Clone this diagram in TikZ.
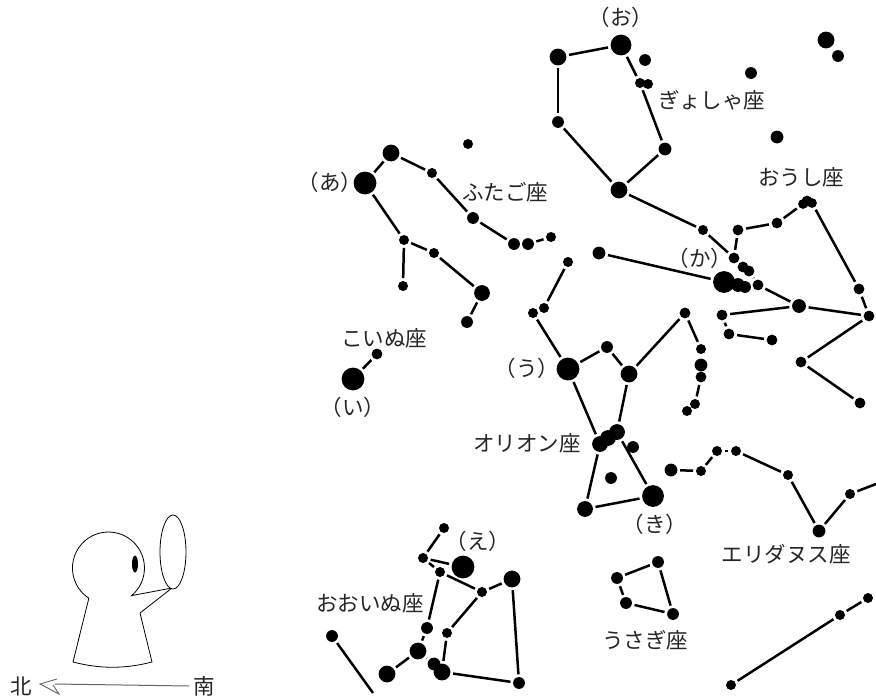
\documentclass[tikz,border=0pt]{standalone}
\usepackage{fontspec}
\newfontfamily\jp{Noto Sans CJK JP}
\begin{document}
\begin{tikzpicture}[x=1pt,y=-1pt,
  link/.style={line width=2.5pt, shorten <=2.6pt, shorten >=2.6pt},
  lbl/.style={font=\jp\fontsize{21.5}{21.5}\selectfont, text=black!85, inner sep=0pt},
  figline/.style={line width=0.8pt, fill=white},
]
% star: name, x, y, radius
\newcommand\st[4]{\node[circle,fill=black,inner sep=0pt,minimum size=(#4+0.4)*2pt] (#1) at (#2,#3) {};}

\fill[white] (0,0) rectangle (876,699);
\useasboundingbox (0,0) rectangle (876,699);

% ---- Auriga
\st{cap}{621}{45}{10}
\st{au1}{645}{60}{5.5}
\st{au2}{640}{83}{4.6}
\st{au2b}{648}{84}{4.6}
\st{au3}{558}{57}{8}
\st{au4}{558}{122}{5.5}
\st{au5}{665}{149}{6}
\st{au6}{619}{190}{8}
\st{iso1}{751}{73}{5.5}
\st{iso2}{777}{137}{6}
\st{iso3}{826}{40}{8}
\st{iso4}{838}{56}{5.5}

% ---- Taurus
\st{ald}{724}{282}{10.5}
\st{hy1}{738}{285}{6.5}
\st{hy2}{745}{287}{5.5}
\st{ta1}{703}{230}{4.6}
\st{ta2}{738}{230}{5}
\st{ta3}{734}{258}{5}
\st{ta4}{743}{267}{5}
\st{ta5}{749}{271}{5}
\st{ta6}{758}{285}{5}
\st{ta7}{777}{223}{5}
\st{elc}{807}{201}{5}
\st{elc2}{803}{204}{4.5}
\st{elc3}{812}{203}{4.5}
\st{ta8}{799}{306}{6.5}
\st{ta9}{869}{316}{5}
\st{ta10}{859}{289}{5}
\st{ta11}{801}{362}{5}
\st{ta12}{860}{403}{5}
\st{ta13}{722}{315}{5}
\st{ta14}{729}{334}{5}
\st{ta15}{772}{340}{5}
\st{ta16}{599}{253}{6}

% ---- Orion
\st{bet}{568}{369}{11}
\st{or1}{607}{347}{5.5}
\st{or2}{629}{374}{8}
\st{or3}{685}{313}{5}
\st{or4}{701}{349}{4.6}
\st{or5}{701}{365}{6}
\st{or6}{701}{377}{5}
\st{or7}{695}{404}{4.6}
\st{or8}{687}{411}{4.6}
\st{or9}{533}{313}{4.6}
\st{or10}{544}{308}{4.6}
\st{or11}{568}{262}{4.6}
\st{belt1}{600}{444}{7.5}
\st{belt2}{608}{438}{7.5}
\st{belt3}{617}{432}{7.5}
\st{or12}{633}{447}{5.5}
\st{or13}{611}{478}{5.5}
\st{sai}{585}{509}{7.5}
\st{rig}{653}{496}{10.5}

% ---- Eridanus
\st{er1}{671}{470}{6}
\st{er2}{701}{471}{4.6}
\st{er3}{717}{451}{4.6}
\st{er4}{736}{451}{4.6}
\st{er5}{788}{475}{4.6}
\st{er6}{819}{531}{6}
\st{er7}{850}{494}{4.6}
\coordinate (erend) at (876,484);

% ---- lower right chain
\st{br1}{731}{685}{4.6}
\st{br2}{840}{615}{4.6}
\st{br3}{868}{598}{4.6}

% ---- Lepus
\st{le1}{658}{562}{5.5}
\st{le2}{617}{578}{5.5}
\st{le3}{626}{603}{5.5}
\st{le4}{673}{614}{5.5}

% ---- Canis Major
\st{sir}{463}{567}{11}
\st{cm1}{444}{528}{4.6}
\st{cm2}{423}{558}{4.6}
\st{cm3}{440}{572}{4.6}
\st{cm4}{482}{592}{4.6}
\st{cm5}{512}{579}{8}
\st{cm6}{427}{628}{5.5}
\st{cm7}{447}{633}{4.6}
\st{cm8}{418}{651}{8}
\st{cm9}{434}{664}{6}
\st{cm10}{442}{672}{8}
\st{cm11}{387}{674}{8}
\st{cm12}{519}{683}{5.5}
\st{cm13}{332}{636}{5.5}
\coordinate (cmend) at (373,693);

% ---- Gemini
\st{pol}{365}{183}{11}
\st{cas}{391}{153}{8}
\st{ge1}{432}{173}{4.6}
\st{ge2}{473}{218}{5.5}
\st{ge3}{514}{244}{5.5}
\st{ge4}{528}{244}{5.5}
\st{ge5}{551}{237}{4.6}
\st{ge6}{404}{240}{4.6}
\st{ge7}{434}{253}{4.6}
\st{ge8}{482}{293}{7.5}
\st{ge9}{403}{286}{4.6}
\st{ge10}{467}{322}{5.5}
\st{ge11}{468}{144}{4.6}

% ---- Canis Minor
\st{pro}{353}{379}{11}
\st{cmi1}{377}{354}{5}

% ---- connecting lines
\foreach \a/\b in {cap/au3, au3/au4, au4/au6, au6/au5, au5/au2, au2/cap,
  au6/ta1, ta1/ta3, ta2/ta3, ta2/ta7, ta7/elc2, elc3/ta10, ta10/ta9,
  ta3/ta4, ta5/ta6, ta6/ta8, ta8/ta9, ta9/ta11, ta11/ta12,
  ta8/ta13, ta13/ta14, ta14/ta15, ta16/ald,
  bet/or9, or10/or11, bet/or1, or1/or2, or2/or3, or3/or4, or6/or7,
  bet/belt1, or2/belt3, belt1/sai, belt3/rig, sai/rig,
  er1/er2, er2/er3, er3/er4, er4/er5, er5/er6, er6/er7,
  br1/br2, br2/br3,
  le1/le2, le2/le3, le3/le4, le4/le1,
  cm1/cm2, cm2/sir, cm2/cm3, cm3/cm4, cm4/cm5, cm3/cm6, cm4/cm7,
  cm7/cm10, cm6/cm8, cm8/cm11, cm8/cm9, cm10/cm12, cm5/cm12,
  pol/cas, cas/ge1, ge1/ge2, ge2/ge3, ge4/ge5,
  pol/ge6, ge6/ge9, ge6/ge7, ge7/ge8, ge8/ge10,
  pro/cmi1}
  \draw[link] (\a) -- (\b);
\draw[link, shorten >=0pt] (er7) -- (erend);
\draw[link, shorten >=0pt] (cm13) -- (cmend);

% ---- labels
\node[lbl] (lo) at (621,17) {（お）};
\node[lbl] (lgyo) at (712,100) {ぎょしゃ座};
\node[lbl] (lous) at (801,177) {おうし座};
\node[lbl] (la) at (330,182) {（あ）};
\node[lbl] (lfut) at (505,192) {ふたご座};
\node[lbl] (lkoi) at (384,338) {こいぬ座};
\node[lbl] (li) at (353,407) {（い）};
\node[lbl] (lka) at (700,258) {（か）};
\node[lbl] (lu) at (527,368) {（う）};
\node[lbl] (lori) at (527,443) {オリオン座};
\node[lbl] (lki) at (655,524) {（き）};
\node[lbl] (leri) at (786,554) {エリダヌス座};
\node[lbl] (le) at (478,541) {（え）};
\node[lbl] (looi) at (370,603) {おおいぬ座};
\node[lbl] (lusa) at (645,640) {うさぎ座};

% ---- observer
\draw[figline] (131.6,595.6) arc[start angle=50, end angle=-237, radius=36]
  -- (73,662) .. controls (100,669) and (125,669) .. (152,662)
  -- (140,613) -- (172,588) -- cycle;
\draw[figline] (173,552) ellipse[x radius=13, y radius=37];
\fill (135,564) ellipse[x radius=3, y radius=8.5];

% ---- direction bar
\node[lbl] (kita) at (21,686) {北};
\node[lbl] (minami) at (204,686) {南};
\coordinate (tip) at (40,684);
\draw[black!60, line width=1pt] (minami.west) ++(-4,0) coordinate (barR) -- (55,684);
\draw[black!60, line width=0.9pt] (57,679) -- (tip) -- (59,694) -- (53,685);
\end{tikzpicture}
\end{document}
